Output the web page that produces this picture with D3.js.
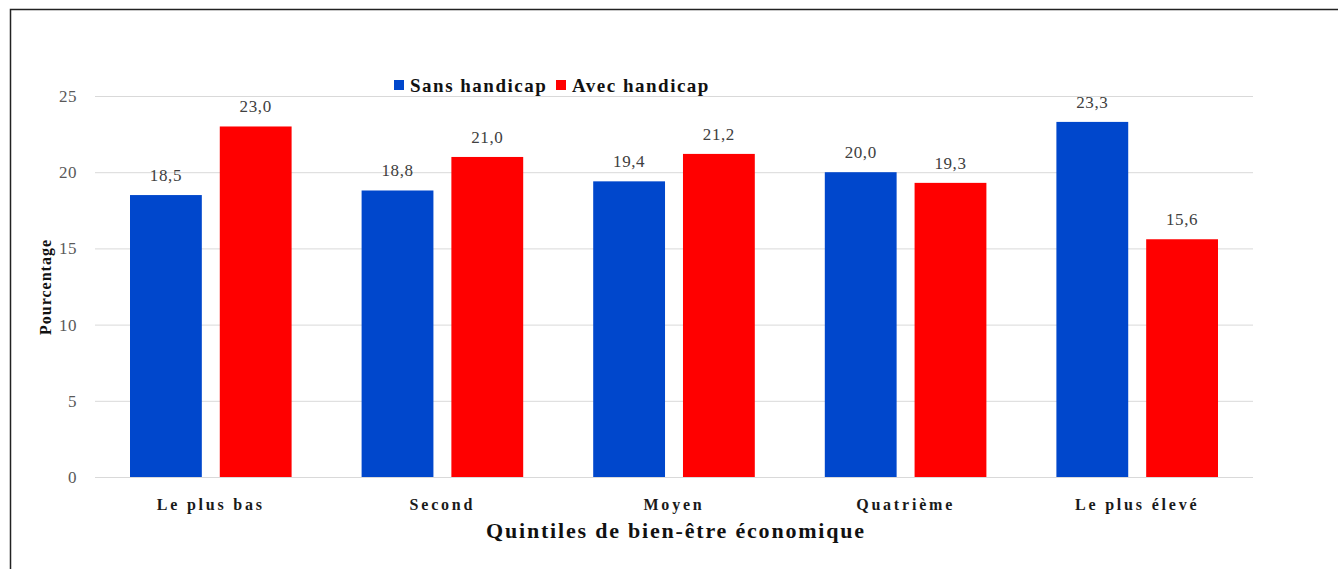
<!DOCTYPE html>
<html>
<head>
<meta charset="utf-8">
<script src="https://cdn.jsdelivr.net/npm/d3@7"></script>
<style>
  body { margin: 0; background: #fff; }
  svg text { font-family: "Liberation Serif", "DejaVu Serif", serif; }
</style>
</head>
<body>
<div id="chart"></div>
<script>
var categories = ['Le plus bas', 'Second', 'Moyen', 'Quatrième', 'Le plus élevé']
var seriesNames = ['Sans handicap', 'Avec handicap']
var sansHandicap = [18.5, 18.8, 19.4, 20.0, 23.3]
var avecHandicap = [23.0, 21.0, 21.2, 19.3, 15.6]
var yTicks = [0, 5, 10, 15, 20, 25]
var colors = ['#0047cc', '#ff0000']

var width = 1338, height = 569
var margin = { top: 96, right: 85, bottom: 92, left: 95 }
var plotW = width - margin.left - margin.right
var plotH = height - margin.top - margin.bottom

var svg = d3.select('#chart').append('svg')
  .attr('width', width)
  .attr('height', height)

// outer frame (runs off the right and bottom edges like the source)
svg.append('path')
  .attr('d', 'M10.5,' + (height + 5) + ' L10.5,9.5 L' + (width + 5) + ',9.5')
  .attr('fill', 'none')
  .attr('stroke', '#222')
  .attr('stroke-width', 1.5)

var g = svg.append('g').attr('transform', 'translate(' + margin.left + ',' + margin.top + ')')

var x0 = d3.scaleBand().domain(categories).range([0, plotW]).padding(0)
var x1 = d3.scaleBand().domain(seriesNames)
  .range([35, x0.bandwidth() - 35])
  .paddingInner(0.2)
var y = d3.scaleLinear().domain([0, 25]).range([plotH, 0])

// gridlines
g.append('g')
  .call(d3.axisLeft(y).tickValues(yTicks).tickSize(-plotW).tickFormat(''))
  .call(s => s.select('.domain').remove())
  .selectAll('line')
  .attr('stroke', '#d9d9d9')

// y tick labels
g.append('g')
  .call(d3.axisLeft(y).tickValues(yTicks).tickSize(0).tickPadding(18))
  .call(s => s.select('.domain').remove())
  .selectAll('text')
  .attr('font-family', '"Liberation Serif", serif')
  .attr('font-size', 17)
  .attr('letter-spacing', 0.5)
  .attr('fill', '#595959')

var rows = categories.map((c, i) => ({ cat: c, vals: [sansHandicap[i], avecHandicap[i]] }))

var groups = g.selectAll('.grp')
  .data(rows)
  .enter()
  .append('g')
  .attr('class', 'grp')
  .attr('transform', d => 'translate(' + x0(d.cat) + ',0)')

groups.selectAll('rect')
  .data(d => d.vals.map((v, k) => ({ name: seriesNames[k], v: v, k: k })))
  .enter()
  .append('rect')
  .attr('x', d => x1(d.name))
  .attr('y', d => y(d.v))
  .attr('width', x1.bandwidth())
  .attr('height', d => plotH - y(d.v))
  .attr('fill', d => colors[d.k])

groups.selectAll('.val')
  .data(d => d.vals.map((v, k) => ({ name: seriesNames[k], v: v })))
  .enter()
  .append('text')
  .attr('class', 'val')
  .attr('x', d => x1(d.name) + x1.bandwidth() / 2)
  .attr('y', d => y(d.v) - 14)
  .attr('text-anchor', 'middle')
  .attr('font-size', 17)
  .attr('letter-spacing', 0.6)
  .attr('fill', '#404040')
  .text(d => d.v.toFixed(1).replace('.', ','))

// category labels
g.append('g')
  .attr('transform', 'translate(0,' + plotH + ')')
  .call(d3.axisBottom(x0).tickSize(0).tickPadding(22))
  .call(s => s.select('.domain').remove())
  .selectAll('text')
  .attr('font-family', '"Liberation Serif", serif')
  .attr('font-size', 16)
  .attr('font-weight', 'bold')
  .attr('letter-spacing', 2.8)
  .attr('fill', '#1a1a1a')

// axis titles
svg.append('text')
  .attr('x', margin.left + plotW / 2 + 2)
  .attr('y', 538)
  .attr('text-anchor', 'middle')
  .attr('font-size', 22)
  .attr('font-weight', 'bold')
  .attr('letter-spacing', 1.8)
  .attr('fill', '#111')
  .text('Quintiles de bien-être économique')

svg.append('text')
  .attr('transform', 'translate(51,287) rotate(-90)')
  .attr('text-anchor', 'middle')
  .attr('font-size', 16)
  .attr('font-weight', 'bold')
  .attr('letter-spacing', 1)
  .attr('fill', '#111')
  .text('Pourcentage')

// legend
var legend = svg.append('g').attr('transform', 'translate(394,0)')
var legendX = [0, 162]
seriesNames.forEach((name, k) => {
  legend.append('rect')
    .attr('x', legendX[k])
    .attr('y', 80)
    .attr('width', 10)
    .attr('height', 10)
    .attr('fill', colors[k])
  legend.append('text')
    .attr('x', legendX[k] + 16)
    .attr('y', 92)
    .attr('font-size', 19)
    .attr('font-weight', 'bold')
    .attr('letter-spacing', 1.5)
    .attr('fill', '#111')
    .text(name)
})
</script>
</body>
</html>
